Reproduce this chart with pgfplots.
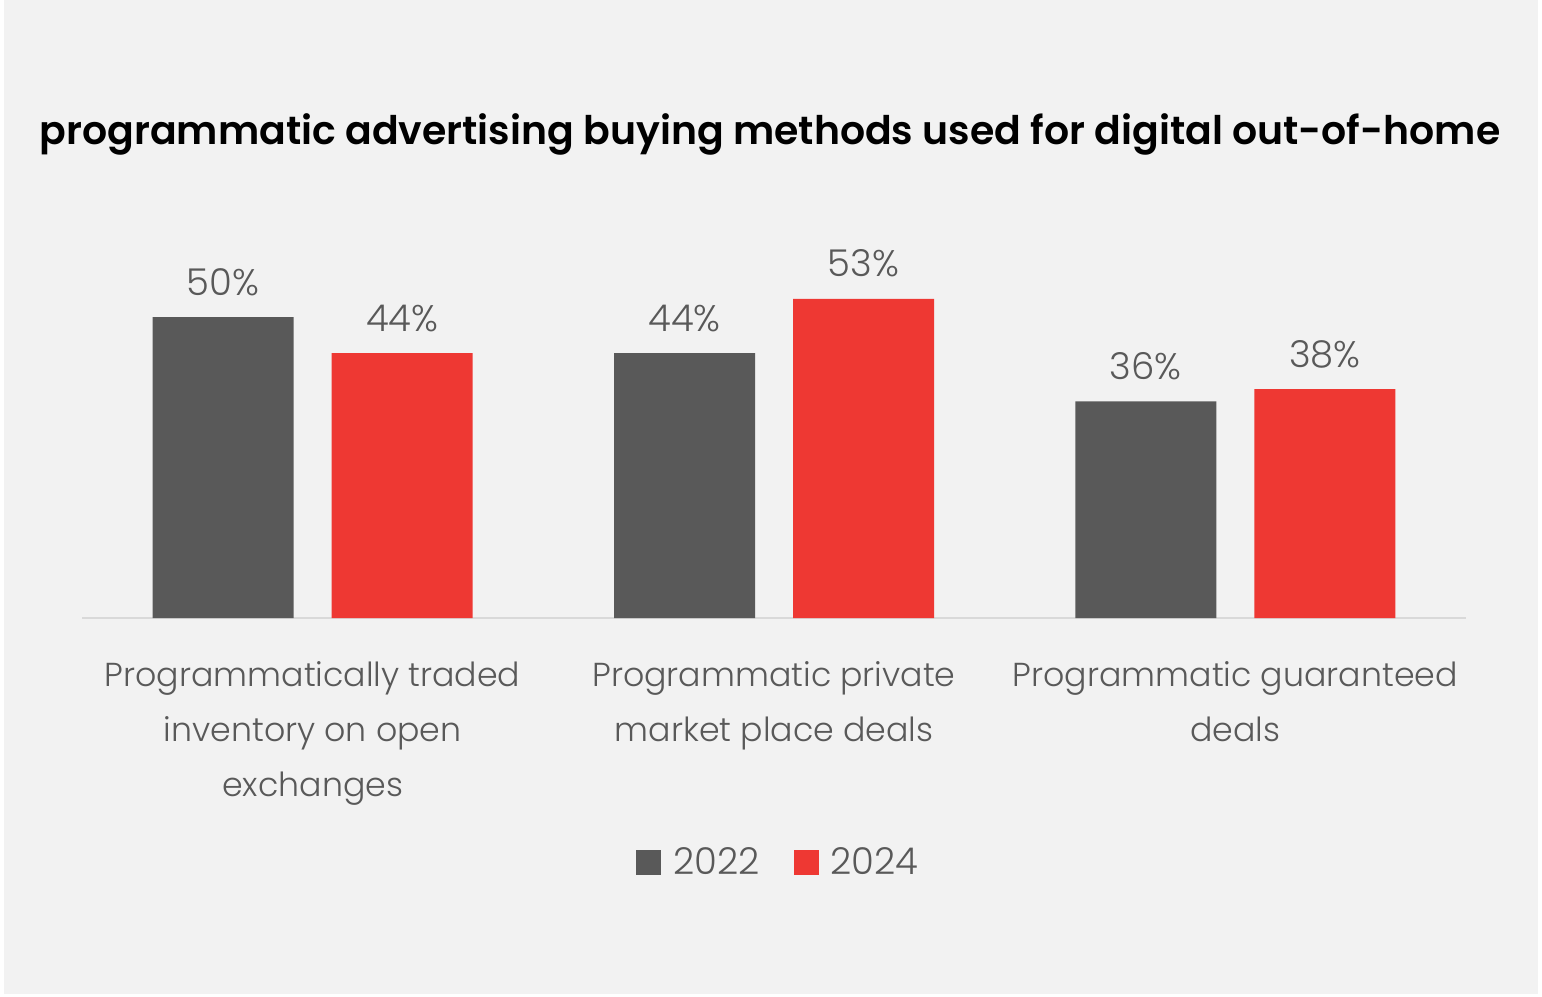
\documentclass[border=0pt]{standalone}
\usepackage{pgfplots}
\pgfplotsset{compat=1.18}
\usepackage{fontspec}
\setmainfont{Poppins}
\newfontfamily\lightfont{Poppins Light}
\newfontfamily\semifont{Poppins SemiBold}

\definecolor{bgc}{HTML}{F2F2F2}
\definecolor{darkbar}{HTML}{595959}
\definecolor{redbar}{HTML}{EE3833}
\definecolor{txt}{HTML}{595959}
\definecolor{axisline}{HTML}{D9D9D9}

\newcommand{\lbl}{\lightfont\fontsize{16.6}{27.5}\selectfont}
\newcommand{\num}{\lightfont\fontsize{18.5}{22}\selectfont}

\begin{document}
\begin{tikzpicture}
\useasboundingbox (0,0) rectangle (771pt,498pt);
% canvas
\fill[white] (0,0) rectangle (771pt,498pt);
\fill[bgc] (2pt,1pt) rectangle (769pt,498pt);

% title
\node[anchor=base, font=\semifont\fontsize{19.7}{24}\selectfont, text=black, inner sep=0pt]
  at (385pt,425.5pt) {programmatic advertising buying methods used for digital out-of-home};

\begin{axis}[
  at={(41pt,189pt)}, anchor=south west,
  scale only axis, width=692pt, height=180.6pt,
  xmin=-0.5, xmax=2.5, ymin=0, ymax=60,
  axis x line=bottom, axis y line=none,
  x axis line style={axisline, line width=1.2pt, -},
  xtick=data,
  xticklabels={{Programmatically traded\\inventory on open\\exchanges},
               {Programmatic private\\market place deals},
               {Programmatic guaranteed\\deals}},
  xtick style={draw=none},
  xticklabel style={align=center, font=\lbl, text=txt, yshift=-14pt},
  ybar, bar width=70.5pt,
  nodes near coords={\pgfmathprintnumber[assume math mode=true]{\pgfplotspointmeta}\%},
  nodes near coords style={font=\num, text=txt, anchor=base, yshift=11pt},
  legend style={at={(0.504,-0.676)}, anchor=center, draw=none, fill=none,
    legend columns=-1, font=\num, text=txt,
    /tikz/every odd column/.append style={column sep=4pt},
    /tikz/every even column/.append style={column sep=15pt}},
  legend image code/.code={\fill[#1, draw=none] (0pt,-6.25pt) rectangle (12.5pt,6.25pt);},
  clip=false,
]
\addplot[fill=darkbar, draw=none, bar shift=-44.75pt] coordinates {(0,50) (1,44) (2,36)};
\addplot[fill=redbar, draw=none, bar shift=44.75pt] coordinates {(0,44) (1,53) (2,38)};
\legend{2022,2024}
\end{axis}
\end{tikzpicture}
\end{document}
